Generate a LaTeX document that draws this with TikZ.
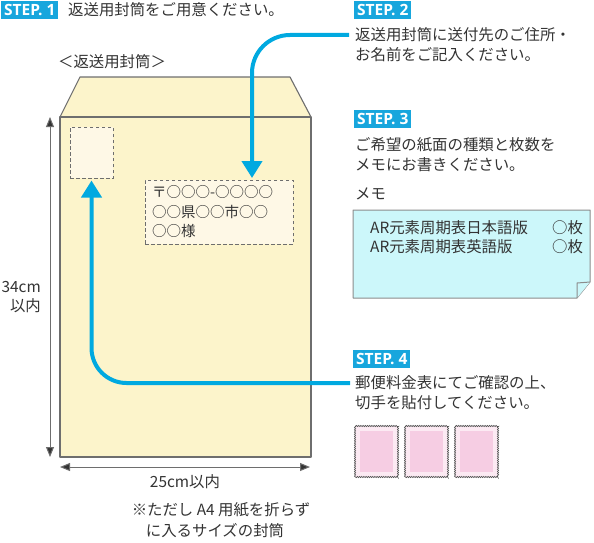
\documentclass[tikz,border=0pt]{standalone}
\usepackage{fontspec}
\setmainfont{Noto Sans CJK JP}
\newfontfamily\stepfont{Open Sans}
\usetikzlibrary{arrows.meta,decorations.pathmorphing}
\definecolor{txt}{HTML}{333333}
\definecolor{stepblue}{HTML}{17A6DD}
\definecolor{arrblue}{HTML}{00A9E0}
\definecolor{envfill}{HTML}{FCF4CB}
\definecolor{envline}{HTML}{6E6E6E}
\definecolor{boxfill}{HTML}{FEF8E6}
\definecolor{memofill}{HTML}{CCF7FA}
\definecolor{stampband}{HTML}{FCEAF3}
\definecolor{stamppink}{HTML}{F6CDE3}
\tikzset{
  badge/.style={fill=stepblue, text=white, font=\stepfont\bfseries\fontsize{15.5}{15.5}\selectfont,
    inner xsep=3pt, inner ysep=0pt, minimum height=18pt, anchor=north west},
  line/.style={anchor=west, inner sep=0pt},
  envstroke/.style={draw=envline, line width=1.1pt, fill=envfill, line join=round},
  dashbox/.style={draw=envline, line width=1pt, dash pattern=on 3.5pt off 2.5pt, fill=boxfill},
  bluearrow/.style={draw=arrblue, line width=4pt, -{Triangle[width=20pt,length=17pt]}},
  dim/.style={draw=envline, line width=1pt, {Triangle[width=8pt,length=10pt,fill=txt]}-{Triangle[width=8pt,length=10pt,fill=txt]}},
  memostroke/.style={draw=gray!90, line width=1pt, fill=memofill, line join=round},
  stampedge/.style={draw=black!70, line width=0.6pt, fill=stampband,
    decorate, decoration={zigzag, segment length=2.2pt, amplitude=0.6pt}},
}
\begin{document}
\begin{tikzpicture}[x=1pt,y=-1pt, font=\fontsize{15.4}{18}\selectfont, text=txt]
\useasboundingbox (0,0) rectangle (594,543);

% STEP 1
\node[badge] (b1) at (1,1) {STEP. 1};
\node[line] (t1) at (68,10) {返送用封筒をご用意ください。};

% envelope
\node (envlabel) at (112,62) {＜返送用封筒＞};
\draw[envstroke] (60,117) -- (80,77) -- (290,77) -- (311,117) -- cycle;
\draw[envstroke] (60,117) rectangle (311,457);

\node[dashbox, minimum width=43pt, minimum height=51pt, inner sep=0pt] (stampbox) at (91.5,152.5) {};
\node[dashbox, minimum width=148pt, minimum height=64pt, inner sep=0pt] (addr) at (219,212) {};
\node[line, font=\fontsize{14.5}{18}\selectfont] (ad1) at (152,192) {〒○○○-○○○○};
\node[line, font=\fontsize{14.5}{18}\selectfont] (ad2) at (152,212) {○○県○○市○○};
\node[line, font=\fontsize{14.5}{18}\selectfont] (ad3) at (152,231) {○○様};

% dimensions
\coordinate (vtop) at (50,117);
\coordinate (vbot) at (50,457);
\draw[dim] (vtop) -- (vbot);
\node[anchor=east, inner sep=0pt] (h1) at (41,287) {34cm};
\node[anchor=east, inner sep=0pt] (h2) at (41,306) {以内};
\coordinate (hl) at (60,467);
\coordinate (hr) at (310,467);
\draw[dim] (hl) -- (hr);
\node (wlabel) at (185,482) {25cm以内};
\node (note1) at (221,510) {※ただし A4 用紙を折らず};
\node (note2) at (215,531) {に入るサイズの封筒};

% STEP 2
\node[badge] (b2) at (354,1) {STEP. 2};
\node[line] (t2a) at (355,35) {返送用封筒に送付先のご住所・};
\node[line] (t2b) at (355,55) {お名前をご記入ください。};
\coordinate (s2from) at (349,35);
\coordinate (a2tip) at (252,178);
\draw[bluearrow, rounded corners=38pt] (s2from) -| (a2tip);

% STEP 3
\node[badge] (b3) at (354,110) {STEP. 3};
\node[line] (t3a) at (355,145) {ご希望の紙面の種類と枚数を};
\node[line] (t3b) at (355,165) {メモにお書きください。};
\node[line] (memolabel) at (355,194) {メモ};
\draw[memostroke] (353,210) -- (590,210) -- (590,282) -- (577,298) -- (353,298) -- cycle;
\draw[memostroke] (577,298) -- (577,283) -- (590,282);
\node[line] (m1) at (370,228) {AR元素周期表日本語版};
\node[line] (m1b) at (552,228) {○枚};
\node[line] (m2) at (370,247) {AR元素周期表英語版};
\node[line] (m2b) at (552,247) {○枚};

% STEP 4
\node[badge] (b4) at (353,350) {STEP. 4};
\node[line] (t4a) at (355,383) {郵便料金表にてご確認の上、};
\node[line] (t4b) at (355,403) {切手を貼付してください。};
\coordinate (s4from) at (350,383);
\draw[bluearrow, rounded corners=35pt, shorten >=2pt] (s4from) -| (stampbox.south);

% stamps
\foreach \x/\n in {355/st1,405/st2,455/st3}{
  \draw[stampedge] (\x,426) rectangle ++(43,51);
  \fill[stamppink] (\x+5,431) rectangle ++(33,41);
}
\end{tikzpicture}
\end{document}
